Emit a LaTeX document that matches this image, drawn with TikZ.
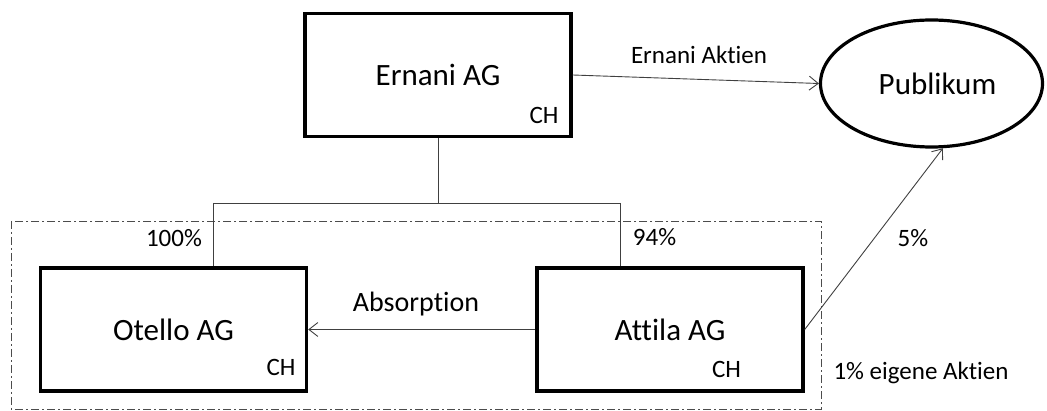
\documentclass[tikz,border=0pt]{standalone}
\usepackage{fontspec}
\setmainfont{Carlito}[Ligatures=NoCommon]
\usepackage{tikz}
\usetikzlibrary{arrows.meta,shapes.geometric}

\begin{document}
\begin{tikzpicture}[x=1pt, y=-1pt, line width=0.9pt,
    firm/.style={draw, line width=3.4pt, inner sep=0pt, minimum width=266pt,
      minimum height=123pt, font=\fontsize{31}{37}\selectfont},
    lbl/.style={anchor=base, inner sep=0pt, font=\fontsize{25}{30}\selectfont},
    link/.style={black!75, line width=0.9pt},
    arr/.style={link, -{Straight Barb[length=9pt, width=14pt, line width=0.9pt]}}]
  \useasboundingbox (0,0) rectangle (1047,411);

  % konzern
  \draw[black!70, dash pattern=on 8pt off 3pt on 2pt off 3pt] (11,221) rectangle (821,409);

  \node[firm](ernani) at (438, 75) {Ernani AG};
  \node[firm](otello) at (173.5,329.5) {Otello AG};
  \node[firm](attila) at (670,329.5) {Attila AG};
  \node[draw, ellipse, line width=3.2pt, inner sep=0pt, minimum width=222pt,
    minimum height=127pt, font=\fontsize{31}{37}\selectfont](publikum) at (931.5,83.5) {\hspace{12pt}Publikum};

  \node[lbl](ernani-ch) at (544,124) {CH};
  \node[lbl](otello-ch) at (281,376) {CH};
  \node[lbl](attila-ch) at (726.5,378) {CH};

  % beteiligungen
  \coordinate (busL) at (213,203);
  \coordinate (busR) at (620,203);
  \draw[link] (ernani.south) -- (ernani.south |- busL)
              (busL) -- (busR)
              (busL) -- (busL |- otello.north)
              (busR) -- (busR |- attila.north);

  \node[lbl](p-otello) at (174,247) {100\%};
  \node[lbl](p-attila) at (654.5,246) {94\%};
  \node[lbl](p-pub) at (913,247) {5\%};
  \node[lbl](eigene) at (921,380) {1\% eigene Aktien};

  \draw[arr] (ernani.east) -- (publikum.west);
  \draw[arr] (attila.east) -- (publikum.-80);
  \draw[arr] (attila.west) -- (otello.east);

  \node[lbl](aktien) at (699,64) {Ernani Aktien};
  \node[lbl, font=\fontsize{28}{34}\selectfont](absorption) at (416,312) {Absorption};

\end{tikzpicture}
\end{document}
